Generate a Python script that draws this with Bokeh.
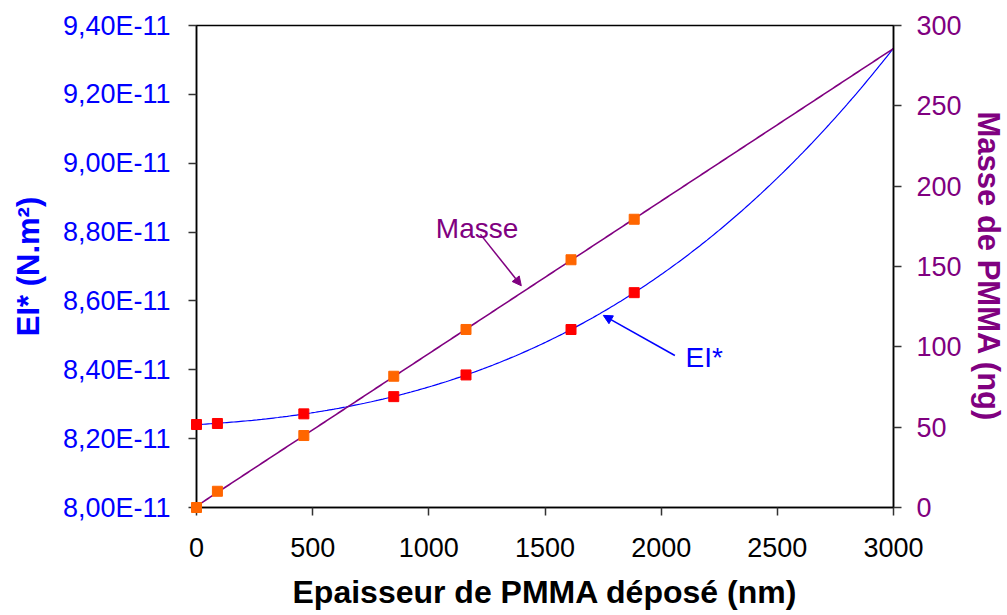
import numpy as np
from bokeh.plotting import figure
from bokeh.models import (Range1d, LinearAxis, FixedTicker, CustomJSTickFormatter,
                          Arrow, NormalHead, Label)
from bokeh.embed import file_html
from bokeh.resources import INLINE

# ---- data ----
thickness_nm = [0, 90, 462, 849, 1160, 1612, 1884]
ei_values = [8.241, 8.244, 8.272, 8.322, 8.385, 8.517, 8.624]   # x 1e-11 N.m²
mass_ng = [0.0, 10.1, 44.8, 81.7, 110.8, 154.2, 179.4]

x_ticks = [0, 500, 1000, 1500, 2000, 2500, 3000]
ei_ticks = [8.0, 8.2, 8.4, 8.6, 8.8, 9.0, 9.2, 9.4]
ei_tick_labels = ["8,00E-11", "8,20E-11", "8,40E-11", "8,60E-11",
                  "8,80E-11", "9,00E-11", "9,20E-11", "9,40E-11"]
mass_ticks = [0, 50, 100, 150, 200, 250, 300]

# annotation positions (data units)
masse_label = (1030, 173.5)          # (nm, ng)
masse_arrow = (1222, 170.0, 1398, 138.0)
ei_label = (2105, 8.436)             # (nm, 1e-11 N.m²)
ei_arrow = (2059, 8.4415, 1751, 8.558)

BLUE = "#0000FF"
PURPLE = "#800080"
FONT = "Liberation Sans"

# trend lines (polynomial fits of the data, as in the spreadsheet)
xs = np.linspace(0, 3000, 300)
ei_fit = np.polyval(np.polyfit(thickness_nm, ei_values, 3), xs)
mass_fit = np.polyval(np.polyfit(thickness_nm, mass_ng, 1), xs)

p = figure(frame_width=697, frame_height=482,
           min_border_left=196, min_border_right=100,
           min_border_top=25, min_border_bottom=100,
           x_range=Range1d(0, 3000), y_range=Range1d(8.0, 9.4),
           output_backend="svg", toolbar_location=None)
p.extra_y_ranges = {"mass": Range1d(0, 300)}
p.xgrid.visible = False
p.ygrid.visible = False
p.outline_line_color = "black"
p.outline_line_width = 1.5
p.background_fill_color = "white"
p.border_fill_color = "white"

# bottom axis
xa = p.xaxis[0]
xa.ticker = FixedTicker(ticks=x_ticks)
xa.axis_label = "Epaisseur de PMMA déposé (nm)"
xa.axis_label_text_color = "black"
xa.major_label_text_color = "black"
# left axis
ya = p.yaxis[0]
ya.ticker = FixedTicker(ticks=ei_ticks)
ya.formatter = CustomJSTickFormatter(args=dict(tvals=ei_ticks, tlabels=ei_tick_labels), code="""
let best = 0;
for (let i = 0; i < tvals.length; i++) {
  if (Math.abs(tvals[i] - tick) < Math.abs(tvals[best] - tick)) best = i;
}
return tlabels[best];
""")
ya.axis_label = "EI* (N.m²)"
ya.axis_label_text_color = BLUE
ya.major_label_text_color = BLUE
# right axis
ra = LinearAxis(y_range_name="mass", ticker=FixedTicker(ticks=mass_ticks),
                axis_label="Masse de PMMA (ng)")
ra.axis_label_text_color = PURPLE
ra.major_label_text_color = PURPLE
p.add_layout(ra, "right")

for ax in (xa, ya, ra):
    ax.axis_line_color = "black"
    ax.axis_line_width = 1.5
    ax.major_tick_line_color = "#333333"
    ax.major_tick_line_width = 1.5
    ax.major_tick_in = 0
    ax.major_tick_out = 8
    ax.minor_tick_line_color = None
    ax.major_label_text_font = FONT
    ax.major_label_text_font_size = "27px"
    ax.axis_label_text_font = FONT
    ax.axis_label_text_font_size = "31px"
    ax.axis_label_text_font_style = "bold"
xa.axis_label_text_font_size = "32px"
ra.axis_label_text_font_size = "31px"
xa.major_label_standoff = 22
xa.axis_label_standoff = 14
ya.major_label_standoff = 18
ya.axis_label_standoff = 14
ra.major_label_standoff = 15
ra.axis_label_standoff = 6

# trend lines
p.line(xs, ei_fit, line_color=BLUE, line_width=1.2)
p.line(xs, mass_fit, line_color=PURPLE, line_width=1.6, y_range_name="mass")
# markers (overlay level so the ones sitting on the axes are drawn whole)
r1 = p.scatter(thickness_nm, ei_values, marker="square", size=10,
               fill_color="#FF0000", line_color="#FF0000")
r2 = p.scatter(thickness_nm, mass_ng, marker="square", size=10,
               fill_color="#FF6600", line_color="#FF6600", y_range_name="mass")
r1.level = "overlay"
r2.level = "overlay"

# annotations
p.add_layout(Label(x=masse_label[0], y=masse_label[1], y_range_name="mass",
                   text="Masse", text_color=PURPLE, text_font=FONT,
                   text_font_size="28px", text_baseline="alphabetic"))
p.add_layout(Arrow(x_start=masse_arrow[0], y_start=masse_arrow[1],
                   x_end=masse_arrow[2], y_end=masse_arrow[3], y_range_name="mass",
                   line_color=PURPLE, line_width=1.5,
                   end=NormalHead(size=9, fill_color=PURPLE, line_color=PURPLE)))
p.add_layout(Label(x=ei_label[0], y=ei_label[1], text="EI*", text_color=BLUE,
                   text_font=FONT, text_font_size="28px", text_baseline="alphabetic"))
p.add_layout(Arrow(x_start=ei_arrow[0], y_start=ei_arrow[1],
                   x_end=ei_arrow[2], y_end=ei_arrow[3],
                   line_color=BLUE, line_width=1.5,
                   end=NormalHead(size=9, fill_color=BLUE, line_color=BLUE)))

open("out.html", "w").write(file_html(p, INLINE))
